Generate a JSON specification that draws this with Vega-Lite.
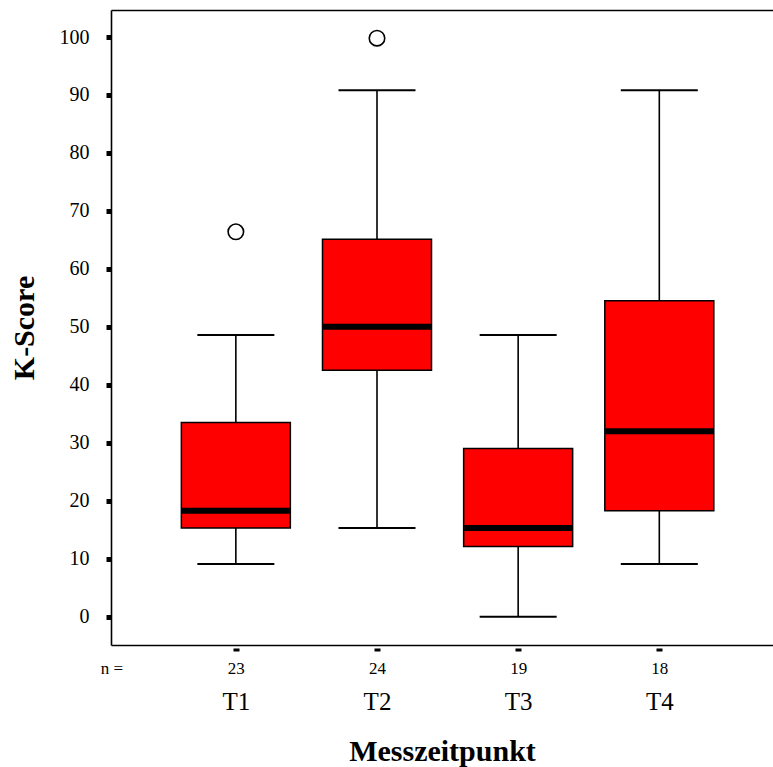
{
  "$schema": "https://vega.github.io/schema/vega-lite/v6.json",
  "width": 662,
  "height": 635,
  "autosize": {"type": "none"},
  "padding": {"left": 111, "top": 10, "right": 0, "bottom": 122},
  "background": "white",
  "config": {"view": {"stroke": null}, "font": "Liberation Serif"},
  "datasets": {
    "stats": [
      {"t": 1, "label": "T1", "n": 23, "lower": 9.1, "q1": 15.3, "median": 18.3, "q3": 33.5, "upper": 48.6},
      {"t": 2, "label": "T2", "n": 24, "lower": 15.3, "q1": 42.5, "median": 50.0, "q3": 65.1, "upper": 90.8},
      {"t": 3, "label": "T3", "n": 19, "lower": 0.0, "q1": 12.1, "median": 15.3, "q3": 29.0, "upper": 48.6},
      {"t": 4, "label": "T4", "n": 18, "lower": 9.1, "q1": 18.3, "median": 32.0, "q3": 54.5, "upper": 90.8}
    ],
    "outliers": [
      {"t": 1, "value": 66.4},
      {"t": 2, "value": 99.8}
    ]
  },
  "resolve": {"axis": {"x": "independent", "y": "independent"}, "scale": {"x": "shared", "y": "shared"}},
  "layer": [
    {
      "data": {"name": "stats"},
      "mark": {"type": "rule", "color": "black", "strokeWidth": 1.6},
      "encoding": {
        "x": {
          "field": "t", "type": "quantitative",
          "scale": {"domain": [0.151, 4.77], "nice": false, "zero": false},
          "axis": {
            "orient": "bottom", "values": [0.118, 1, 2, 3, 4],
            "labelExpr": "datum.value < 0.5 ? 'n =' : datum.value == 1 ? '23' : datum.value == 2 ? '24' : datum.value == 3 ? '19' : '18'",
            "domain": true, "domainColor": "black", "domainWidth": 1.6,
            "ticks": false, "grid": false,
            "labelFont": "Liberation Serif", "labelFontSize": 17, "labelColor": "black",
            "labelPadding": 15, "labelFlush": false, "labelOverlap": false, "labelBound": false,
            "title": null
          }
        },
        "y": {
          "field": "lower", "type": "quantitative",
          "scale": {"domain": [-4.88, 104.66], "nice": false, "zero": false},
          "axis": {
            "values": [0, 10, 20, 30, 40, 50, 60, 70, 80, 90, 100],
            "tickSize": 5, "tickWidth": 5, "tickColor": "black",
            "domainColor": "black", "domainWidth": 1.6,
            "grid": false,
            "labelFont": "Liberation Serif", "labelFontSize": 20, "labelColor": "black",
            "labelPadding": 17,
            "title": "K-Score", "titleFont": "Liberation Serif", "titleFontSize": 30,
            "titleFontWeight": "bold", "titleColor": "black", "titlePadding": 19.5
          }
        },
        "y2": {"field": "upper"}
      }
    },
    {
      "data": {"name": "stats"},
      "mark": {"type": "bar", "size": 109, "fill": "#ff0000", "stroke": "black", "strokeWidth": 1.5},
      "encoding": {
        "x": {
          "field": "t", "type": "quantitative",
          "axis": {
            "orient": "bottom", "values": [1, 2, 3, 4], "offset": 3,
            "domain": false, "ticks": true, "tickSize": 3, "tickWidth": 6, "tickColor": "black",
            "labels": false, "grid": false, "title": null
          }
        },
        "y": {"field": "q1", "type": "quantitative", "axis": null},
        "y2": {"field": "q3"}
      }
    },
    {
      "data": {"name": "stats"},
      "mark": {"type": "tick", "orient": "horizontal", "size": 108, "thickness": 6, "color": "black", "opacity": 1},
      "encoding": {
        "x": {
          "field": "t", "type": "quantitative",
          "axis": {
            "orient": "bottom", "values": [1, 2, 3, 4],
            "labelExpr": "'T' + datum.value",
            "domain": false, "ticks": false, "grid": false,
            "labelFont": "Liberation Serif", "labelFontSize": 25, "labelColor": "black",
            "labelPadding": 44,
            "title": "Messzeitpunkt", "titleFont": "Liberation Serif", "titleFontSize": 30,
            "titleFontWeight": "bold", "titleColor": "black", "titlePadding": 22
          }
        },
        "y": {"field": "median", "type": "quantitative", "axis": null}
      }
    },
    {
      "data": {"name": "stats"},
      "transform": [{"fold": ["lower", "upper"], "as": ["end", "whisker"]}],
      "mark": {"type": "tick", "orient": "horizontal", "size": 77, "thickness": 2, "color": "black", "opacity": 1},
      "encoding": {
        "x": {
          "field": "t", "type": "quantitative",
          "axis": {
            "orient": "top", "domain": true, "domainColor": "black", "domainWidth": 1.6,
            "ticks": false, "labels": false, "grid": false, "title": null
          }
        },
        "y": {"field": "whisker", "type": "quantitative", "axis": null}
      }
    },
    {
      "data": {"name": "outliers"},
      "mark": {"type": "point", "shape": "circle", "size": 240, "filled": false, "fill": "white", "stroke": "black", "strokeWidth": 1.6, "opacity": 1},
      "encoding": {
        "x": {"field": "t", "type": "quantitative", "axis": null},
        "y": {"field": "value", "type": "quantitative", "axis": null}
      }
    }
  ]
}
